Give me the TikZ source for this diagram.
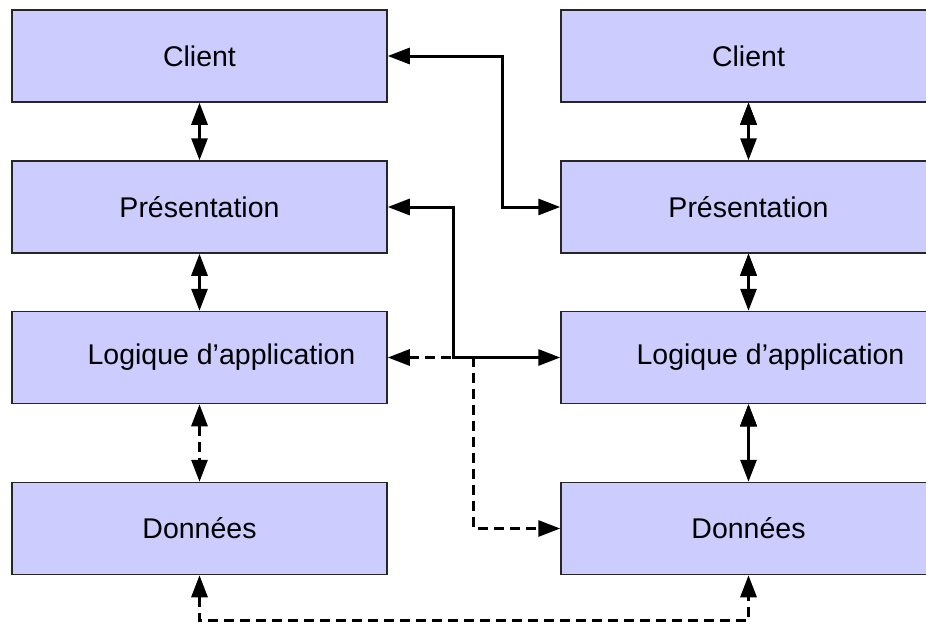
\documentclass[tikz,border=0pt]{standalone}
\usepackage{fontspec}
\setmainfont{Liberation Sans}
\usetikzlibrary{arrows.meta}
\definecolor{boxfill}{HTML}{CCCCFF}
\tikzset{
  layer/.style={shape=rectangle, draw=black!85, line width=1.5pt, fill=boxfill, minimum width=380pt, minimum height=92pt, inner sep=0pt, font=\fontsize{28.5}{34}\selectfont},
  link/.style={line width=3pt, {Triangle[length=22pt,width=16pt]}-{Triangle[length=22pt,width=16pt]}},
  dashlink/.style={link, dash pattern=on 10pt off 6pt}
}
\begin{document}
\begin{tikzpicture}[x=1pt, y=-1pt]
\useasboundingbox (0,0) rectangle (926,624);
\node[layer, minimum width=375pt] (cl1) at (199.5,56) {Client};
\node[layer, minimum width=375pt] (pr1) at (199.5,207) {Présentation};
\node[layer, minimum width=375pt] (lo1) at (199.5,357.5) {\hspace*{44pt}Logique d’application};
\node[layer, minimum width=375pt] (do1) at (199.5,528.5) {Données};
\node[layer] (cl2) at (751,56) {\hspace*{-5pt}Client};
\node[layer] (pr2) at (751,207) {\hspace*{-5pt}Présentation};
\node[layer] (lo2) at (751,357.5) {\hspace*{39pt}Logique d’application};
\node[layer] (do2) at (751,528.5) {\hspace*{-5pt}Données};
\path [link, draw=black] (cl1) edge (pr1);
\path [link, draw=black] (pr1) edge (lo1);
\path [dashlink, draw=black] (lo1) edge (do1);
\path [link, draw=black] ([xshift=-2.5pt]cl2.south) edge ([xshift=-2.5pt]pr2.north);
\path [link, draw=black] ([xshift=-2.5pt]pr2.south) edge ([xshift=-2.5pt]lo2.north);
\path [link, draw=black] ([xshift=-2.5pt]lo2.south) edge ([xshift=-2.5pt]do2.north);
\draw [link] (cl1.east) -- ++(115,0) |- (pr2.west);
\draw [link] (pr1.east) -- ++(66,0) |- (lo2.west);
\draw [dashlink] (lo1.east) -- ++(86,0) |- (do2.west);
\draw [dashlink] (do1.south) -- ++(0,45) -| ([xshift=-2.5pt]do2.south);
\end{tikzpicture}
\end{document}
